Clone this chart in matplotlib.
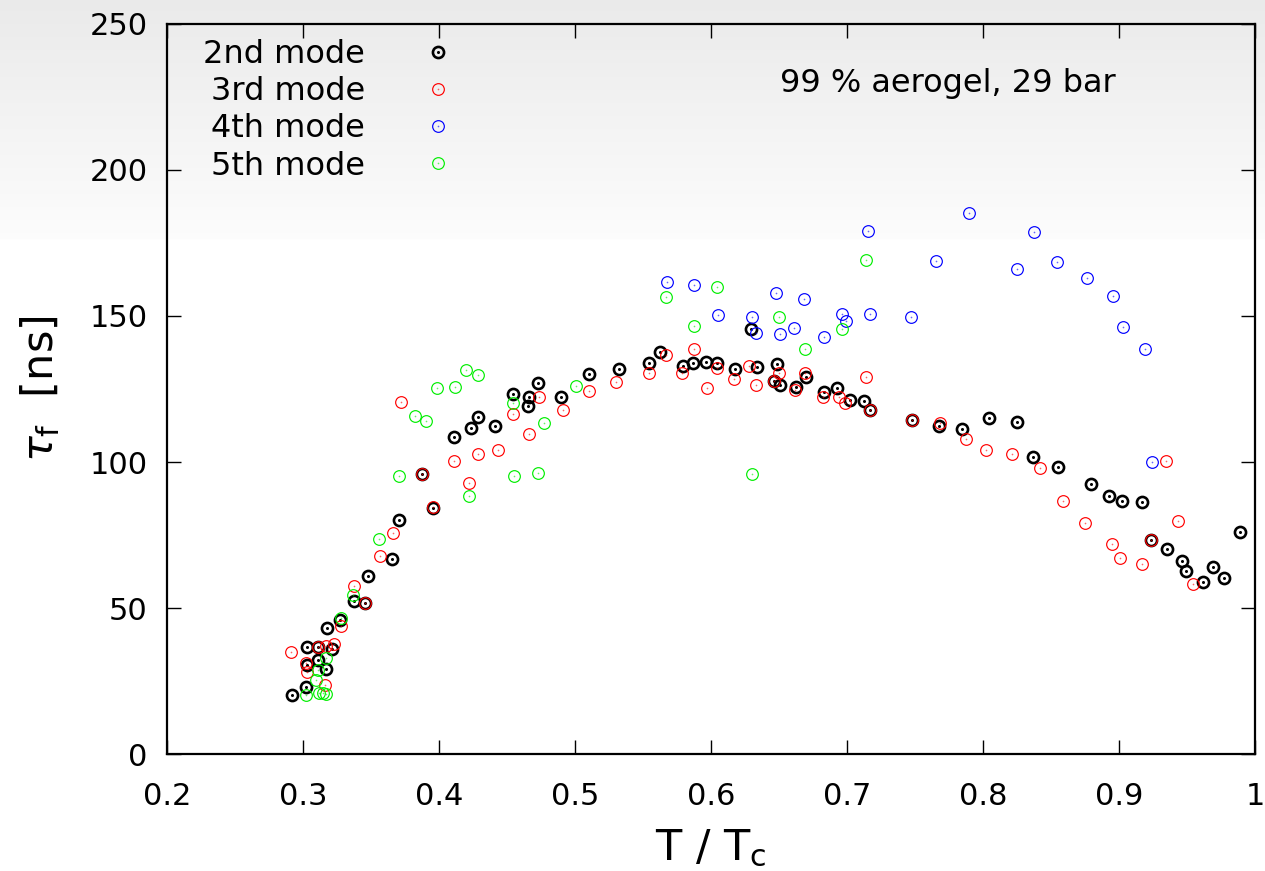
import numpy as np
import matplotlib
matplotlib.use("Agg")
import matplotlib.pyplot as plt
from matplotlib.legend_handler import HandlerTuple
from matplotlib.ticker import FuncFormatter, MultipleLocator

plt.rcParams['font.family'] = ['DejaVu Sans']
plt.rcParams['mathtext.fontset'] = 'dejavusans'

# ---------------- data (T/Tc, tau_f in ns) ----------------
mode2_x = [0.292, 0.302, 0.303, 0.303, 0.311, 0.311, 0.317, 0.3175, 0.321, 0.327,
           0.3375, 0.3456, 0.348, 0.3657, 0.3706, 0.3875, 0.3958, 0.4113, 0.4233, 0.4289,
           0.4412, 0.4542, 0.4657, 0.4664, 0.4725, 0.4895, 0.510, 0.5321, 0.5544, 0.5625,
           0.5796, 0.5870, 0.5961, 0.6042, 0.6176, 0.6292, 0.6336, 0.6465, 0.6483, 0.6507,
           0.6623, 0.6696, 0.6831, 0.6928, 0.7022, 0.7127, 0.7169, 0.7476, 0.7674, 0.7843,
           0.8044, 0.825, 0.8368, 0.8549, 0.8792, 0.8926, 0.9022, 0.9169, 0.9238, 0.9355,
           0.9461, 0.949, 0.9616, 0.9694, 0.9775, 0.9892]
mode2_y = [20.2, 22.9, 30.5, 36.5, 32.2, 36.5, 29.0, 43.0, 35.8, 45.9,
           52.5, 51.6, 61.1, 66.7, 80.1, 95.9, 84.1, 108.6, 111.8, 115.3,
           112.3, 123.3, 119.3, 122.2, 126.9, 122.4, 130.2, 131.7, 133.8, 137.6,
           133.0, 133.8, 134.4, 133.8, 132.0, 145.5, 132.4, 127.8, 133.4, 126.5,
           125.7, 129.0, 124.0, 125.5, 121.4, 120.9, 117.8, 114.4, 112.3, 111.2,
           114.9, 113.7, 101.7, 98.4, 92.4, 88.4, 86.5, 86.4, 73.3, 70.1,
           66.1, 62.7, 58.8, 63.9, 60.4, 76.1]

mode3_x = [0.2914, 0.3024, 0.3029, 0.311, 0.3167, 0.3226, 0.316, 0.328, 0.3375, 0.3456,
           0.3566, 0.3664, 0.3718, 0.3875, 0.3958, 0.411, 0.4218, 0.4289, 0.4431, 0.4547,
           0.4662, 0.4735, 0.4909, 0.510, 0.5304, 0.5544, 0.5667, 0.5789, 0.5873, 0.5973,
           0.6042, 0.6171, 0.6282, 0.6329, 0.6465, 0.650, 0.6618, 0.6691, 0.6821, 0.6943,
           0.6985, 0.714, 0.7169, 0.7476, 0.7684, 0.7873, 0.8022, 0.8216, 0.8417, 0.8591,
           0.8752, 0.8951, 0.9007, 0.9167, 0.9238, 0.9343, 0.9432, 0.9546]
mode3_y = [35.0, 31.0, 28.2, 36.8, 37.1, 37.6, 23.6, 43.9, 57.5, 51.6,
           67.9, 75.6, 120.4, 95.9, 84.6, 100.4, 92.7, 102.8, 104.1, 116.4,
           109.6, 122.4, 117.8, 124.2, 127.4, 130.6, 136.8, 130.4, 138.6, 125.3,
           132.1, 128.4, 132.9, 126.4, 127.8, 130.4, 124.7, 130.6, 122.4, 122.4,
           120.3, 129.0, 117.8, 114.4, 113.2, 108.0, 104.0, 102.8, 98.1, 86.8,
           79.2, 71.9, 67.2, 64.9, 73.3, 100.5, 79.8, 58.2]

mode4_x = [0.5676, 0.5873, 0.6051, 0.6304, 0.6333, 0.6476, 0.6507, 0.6613, 0.6684, 0.6828,
           0.6966, 0.699, 0.7152, 0.7171, 0.7468, 0.7652, 0.790, 0.825, 0.8375, 0.8544,
           0.8767, 0.8957, 0.9027, 0.9194, 0.9243]
mode4_y = [161.5, 160.5, 150.2, 149.5, 144.2, 157.8, 143.8, 145.8, 155.7, 142.9,
           150.6, 148.4, 179.1, 150.7, 149.8, 168.7, 185.2, 166.2, 178.8, 168.4,
           163.0, 157.0, 146.1, 138.6, 100.0]

mode5_x = [0.3025, 0.312, 0.315, 0.317, 0.3098, 0.311, 0.3172, 0.3277, 0.337, 0.3559,
           0.3706, 0.3826, 0.3904, 0.3983, 0.4118, 0.4199, 0.4218, 0.4284, 0.4542, 0.4554,
           0.4725, 0.4774, 0.5005, 0.5667, 0.5873, 0.6046, 0.6298, 0.6502, 0.6691, 0.6961,
           0.714]
mode5_y = [20.1, 21.0, 20.8, 20.5, 25.3, 28.8, 33.0, 46.5, 54.4, 73.5,
           95.3, 115.9, 114.0, 125.2, 125.6, 131.5, 88.4, 129.8, 120.1, 95.3,
           96.3, 113.2, 125.9, 156.6, 146.7, 160.0, 95.9, 149.5, 138.8, 145.4,
           169.2]

labels = ["2nd mode", "3rd mode", "4th mode", "5th mode"]
colors = ["#000000", "#ff0000", "#0000ff", "#00ee00"]
note = "99 % aerogel, 29 bar"

# ---------------- figure ----------------
W, H = 1265, 871
fig = plt.figure(figsize=(W / 100, H / 100), dpi=100)

# background gradient (gray at top fading to white)
bg = fig.add_axes([0, 0, 1, 1], zorder=-10)
grad = np.ones((H, 1))
top_px = 240
grad[:top_px, 0] = np.linspace(0.918, 0.99, top_px)
bg.imshow(np.dstack([grad, grad, grad]), aspect='auto', extent=[0, 1, 0, 1],
          interpolation='bilinear')
bg.axis('off')

ax = fig.add_axes([167 / W, 1 - 754 / H, (1255 - 167) / W, (754 - 24) / H])
ax.set_facecolor('none')

series = [(mode2_x, mode2_y), (mode3_x, mode3_y), (mode4_x, mode4_y), (mode5_x, mode5_y)]
handles = []
for i, ((xs, ys), c, lab) in enumerate(zip(series, colors, labels)):
    if i == 0:
        ms, mew, dms = 8.0, 1.9, 2.2
    else:
        ms, mew, dms = 8.4, 0.85, 1.2
    ring, = ax.plot(xs, ys, linestyle='none', marker='o', ms=ms, mew=mew,
                    mfc='none', mec=c, label=lab, zorder=3 + i)
    dot, = ax.plot(xs, ys, linestyle='none', marker='o', ms=dms, mew=0,
                   mfc=c, alpha=1.0 if i == 0 else 0.6, zorder=3 + i)
    handles.append((ring, dot))

ax.set_xlim(0.2, 1.0)
ax.set_ylim(0, 250)
ax.xaxis.set_major_locator(MultipleLocator(0.1))
ax.yaxis.set_major_locator(MultipleLocator(50))
ax.xaxis.set_major_formatter(FuncFormatter(lambda v, p: f"{v:g}"))
ax.tick_params(direction='in', length=10, width=1.0, top=True, right=True,
               labelsize=22, colors='black')
ax.tick_params(axis='x', pad=20)
ax.tick_params(axis='y', pad=14)
for s in ax.spines.values():
    s.set_linewidth(1.6)

ax.set_xlabel(r"T / T$_\mathrm{c}$", fontsize=31, labelpad=12)
ax.set_ylabel(r"$\tau_\mathrm{f}$  [ns]", fontsize=31, labelpad=20)

ax.text(0.6507, 226.7, note, fontsize=23, ha='left', va='baseline')

leg = ax.legend(handles, labels, handler_map={tuple: HandlerTuple(ndivide=1)},
                loc='upper left', bbox_to_anchor=(0.0331, 0.979), frameon=False,
                markerfirst=False, fontsize=23, handlelength=1.0, handletextpad=1.8,
                labelspacing=0.19, borderpad=0, borderaxespad=0)

fig.savefig("out.png", dpi=100)
